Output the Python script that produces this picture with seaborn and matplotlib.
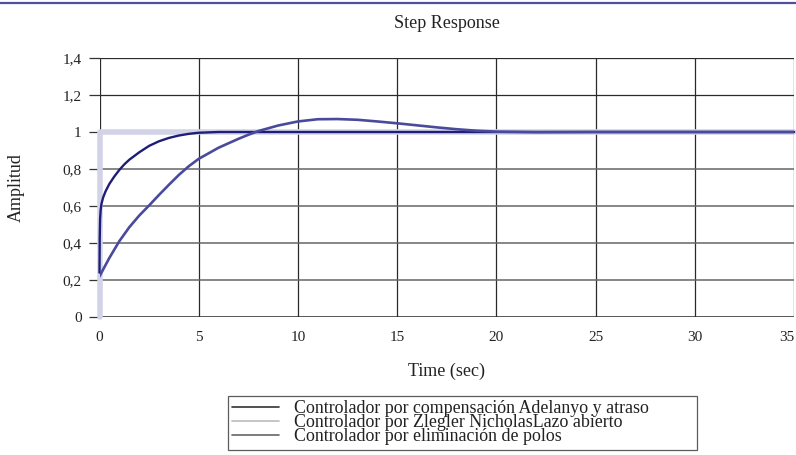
import numpy as np
import pandas as pd
import matplotlib
matplotlib.use("Agg")
import matplotlib.pyplot as plt
from matplotlib.lines import Line2D
from matplotlib.ticker import FuncFormatter
import seaborn as sns

# ---- data ----
labels = ["Controlador por compensación Adelanyo y atraso",
          "Controlador por Zlegler NicholasLazo abierto",
          "Controlador por eliminación de polos"]

t_adelanto = [0, 0.01, 0.03, 0.06, 0.1, 0.18, 0.3, 0.5, 0.75, 1.0, 1.25, 1.5, 2.0, 2.5, 3.0, 3.5, 4.0, 4.5, 5.0, 6.0, 10, 20, 35]
y_adelanto = [0.24, 0.42, 0.53, 0.58, 0.612, 0.645, 0.678, 0.72, 0.76, 0.795, 0.825, 0.85, 0.89, 0.925, 0.95, 0.968, 0.981, 0.99, 0.996, 1.0, 1.0, 1.0, 1.0]

t_zn = [0, 0, 35]
y_zn = [0, 1, 1]

t_polos = [0, 0.5, 1, 1.5, 2, 2.5, 3, 3.5, 4, 4.5, 5, 6, 7, 7.5, 8, 9, 10, 11, 12, 13, 14, 15, 16, 17, 18, 19, 20, 22, 25, 30, 35]
y_polos = [0.22, 0.32, 0.41, 0.485, 0.548, 0.603, 0.66, 0.715, 0.768, 0.815, 0.855, 0.915, 0.963, 0.985, 1.005, 1.035, 1.057, 1.069, 1.07, 1.066, 1.057, 1.047, 1.036, 1.025, 1.015, 1.007, 1.002, 0.999, 1.0, 1.0, 1.0]

x_ticks = [0, 5, 10, 15, 20, 25, 30, 35]
y_ticks = [0, 0.2, 0.4, 0.6, 0.8, 1.0, 1.2, 1.4]

c_dark = "#1e1e78"
c_zn = "#d3d3e7"
c_polos = "#4a4a9c"

sns.set_style("white")
plt.rcParams["font.family"] = ["Liberation Serif", "DejaVu Serif"]

fig = plt.figure(figsize=(7.96, 4.55), dpi=100)
ax = fig.add_axes([99.5 / 796, 1 - 317 / 455, (794 - 99.5) / 796, (317 - 58) / 455])

# grid
for xv in x_ticks:
    ax.axvline(xv, color="#2a2a2a", lw=0.9, zorder=0)
for yv in y_ticks:
    ax.axhline(yv, color="#2a2a2a" if yv > 1.1 or yv == 0 else "#666666",
               lw=0.9 if yv > 1.1 else 1.1, zorder=0)

sns.lineplot(x=t_zn, y=y_zn, ax=ax, color=c_zn, lw=4.0, sort=False, estimator=None, zorder=2, clip_on=False)
sns.lineplot(x=t_adelanto, y=y_adelanto, ax=ax, color=c_dark, lw=1.7, sort=False, estimator=None, zorder=3, clip_on=False)
sns.lineplot(x=t_polos, y=y_polos, ax=ax, color=c_polos, lw=1.9, sort=False, estimator=None, zorder=3)

ax.set_xlim(0, 35)
ax.set_ylim(0, 1.4)
ax.set_xticks(x_ticks)
ax.set_yticks(y_ticks)


def fmt(v, pos):
    return ("%g" % round(v, 2)).replace(".", ",")


ax.yaxis.set_major_formatter(FuncFormatter(fmt))
ax.tick_params(axis="x", length=0, pad=10, labelsize=11, colors="#222222")
ax.tick_params(axis="y", left=True, length=7.8, width=0.9, color="#333333", pad=5, labelsize=11, labelcolor="#222222")
for s in ax.spines.values():
    s.set_visible(False)
ax.get_xticklabels()[-1].set_horizontalalignment("right")

ax.set_xlabel("Time (sec)", fontsize=13, color="#222222")
ax.xaxis.set_label_coords(0.5, -0.175)
ax.set_ylabel("Amplitud", fontsize=13, color="#222222")
ax.yaxis.set_label_coords(-0.107, 0.5)

fig.text(447 / 796, 1 - 24 / 455, "Step Response", ha="center", va="center", fontsize=13, color="#222222")

# decorative top rule
fig.add_artist(Line2D([0, 1], [1 - 3 / 455, 1 - 3 / 455], transform=fig.transFigure, color="#5050a0", lw=1.6))

handles = [Line2D([], [], color="#333333", lw=1.2),
           Line2D([], [], color="#bbbbbb", lw=1.2),
           Line2D([], [], color="#666666", lw=1.2)]
leg = fig.legend(handles, labels, loc="upper left",
                 bbox_to_anchor=(228 / 796, 1 - 396 / 455, (697 - 228) / 796, 0.001),
                 mode="expand", frameon=True, fancybox=False, edgecolor="#333333",
                 fontsize=12.9, handlelength=2.6, handletextpad=0.84, labelspacing=-0.16,
                 borderpad=0.25, borderaxespad=0)
leg.get_frame().set_linewidth(0.9)
for txt in leg.get_texts():
    txt.set_color("#222222")

fig.savefig("out.png", dpi=100)
